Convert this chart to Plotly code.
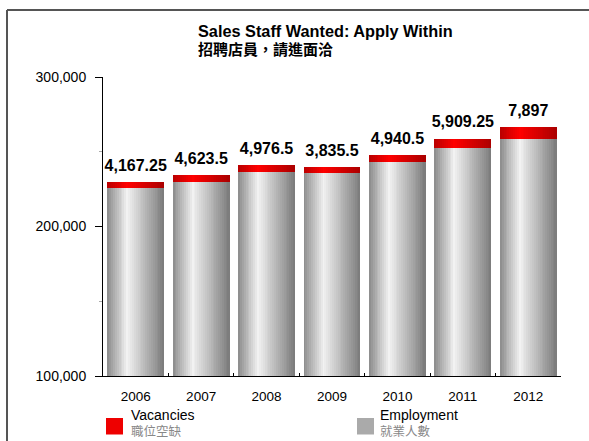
import plotly.graph_objects as go

# ---- data ----
years = ["2006", "2007", "2008", "2009", "2010", "2011", "2012"]
employment = [225500, 229700, 236200, 235800, 243000, 252800, 258800]
vacancies = [4167.25, 4623.5, 4976.5, 3835.5, 4940.5, 5909.25, 7897]
y_ticks = [100000, 200000, 300000]

W, H = 589, 441
ML, MR, MT, MB = 103, 28, 77, 65
PW, PH = W - ML - MR, H - MT - MB

FONT = "Liberation Sans, Arial, Noto Sans CJK TC, sans-serif"
CJK = "Noto Sans CJK TC, Liberation Sans, sans-serif"


def px(x):
    return (x - ML) / PW


def py(y):
    return (H - MB - y) / PH


def lerp_color(stops, t):
    for (t0, c0), (t1, c1) in zip(stops, stops[1:]):
        if t0 <= t <= t1:
            f = (t - t0) / (t1 - t0) if t1 > t0 else 0
            c = [round(a + (b - a) * f) for a, b in zip(c0, c1)]
            return "rgb(%d,%d,%d)" % tuple(c)
    c = stops[-1][1]
    return "rgb(%d,%d,%d)" % tuple(c)


gray_stops = [(0.0, (138, 138, 138)), (0.35, (242, 242, 242)), (1.0, (122, 122, 122))]
red_stops = [(0.0, (185, 0, 0)), (0.35, (255, 0, 0)), (1.0, (170, 0, 0))]

BAR_W = 0.87
N = 30
fig = go.Figure()

# cylinder-like shading: each strip starts further right and runs to the bar's right edge
for k in range(N):
    t = (k + 0.5) / N
    off = -BAR_W / 2 + k * BAR_W / N
    wid = BAR_W - k * BAR_W / N
    fig.add_trace(go.Bar(
        x=years, y=employment, offset=off, width=wid,
        marker=dict(color=lerp_color(gray_stops, t), line=dict(width=0)),
        showlegend=False, hoverinfo="skip"))
for k in range(N):
    t = (k + 0.5) / N
    off = -BAR_W / 2 + k * BAR_W / N
    wid = BAR_W - k * BAR_W / N
    fig.add_trace(go.Bar(
        x=years, y=vacancies, base=employment, offset=off, width=wid,
        marker=dict(color=lerp_color(red_stops, t), line=dict(width=0)),
        showlegend=False, hoverinfo="skip"))


def fmt(v):
    s = f"{v:,.2f}".rstrip("0").rstrip(".")
    return s


totals = [e + v for e, v in zip(employment, vacancies)]
fig.add_trace(go.Scatter(
    x=years, y=totals, mode="markers+text",
    text=[fmt(v) for v in vacancies], textposition="top center",
    textfont=dict(family=FONT, size=16, color="black", weight="bold"),
    marker=dict(size=10, opacity=0),
    showlegend=False, hoverinfo="skip", cliponaxis=False))

shapes = [
    # outer frame: top and left edges
    dict(type="line", xref="paper", yref="paper", x0=px(7), x1=px(589), y0=py(10), y1=py(10),
         line=dict(color="#555555", width=2)),
    dict(type="line", xref="paper", yref="paper", x0=px(7), x1=px(7), y0=py(10), y1=py(441),
         line=dict(color="#555555", width=2)),
    # legend swatches
    dict(type="rect", xref="paper", yref="paper", x0=px(106), x1=px(123), y0=py(418), y1=py(434.5),
         fillcolor="#ee0000", line=dict(width=0)),
    dict(type="rect", xref="paper", yref="paper", x0=px(357), x1=px(374), y0=py(418), y1=py(434.5),
         fillcolor="#aaaaaa", line=dict(width=0)),
]


def legend_label(en, zh):
    return (f"<span style='font-size:14px'>{en}</span><br>"
            f"<span style='font-size:12.5px;color:#888888;font-family:Noto Sans CJK TC'>{zh}</span>")


annotations = [
    dict(text="<b>Sales Staff Wanted: Apply Within</b>", x=px(196), y=py(31), xref="paper", yref="paper",
         xanchor="left", yanchor="middle", showarrow=False, font=dict(family=FONT, size=16.3, color="black")),
    dict(text="<b>招聘店員，請進面洽</b>", x=px(196), y=py(48), xref="paper", yref="paper",
         xanchor="left", yanchor="middle", showarrow=False, font=dict(family=CJK, size=15, color="black")),
    dict(text=legend_label("Vacancies", "職位空缺"), x=px(130), y=py(423.5), xref="paper", yref="paper",
         xanchor="left", yanchor="middle", align="left", showarrow=False, borderpad=0,
         font=dict(family=FONT, size=12.5, color="black")),
    dict(text=legend_label("Employment", "就業人數"), x=px(379), y=py(423.5), xref="paper", yref="paper",
         xanchor="left", yanchor="middle", align="left", showarrow=False, borderpad=0,
         font=dict(family=FONT, size=12.5, color="black")),
]

fig.update_layout(
    width=W, height=H, margin=dict(l=ML, r=MR, t=MT, b=MB, autoexpand=False),
    paper_bgcolor="white", plot_bgcolor="white",
    barmode="overlay", bargap=0,
    shapes=shapes, annotations=annotations,
    font=dict(family=FONT, color="black"),
    xaxis=dict(type="category", categoryorder="array", categoryarray=years,
               showline=True, linecolor="black", linewidth=1,
               ticks="inside", tickson="boundaries", ticklen=3, tickcolor="black",
               showgrid=False, zeroline=False,
               tickfont=dict(family=FONT, size=13.5, color="black"), ticklabelstandoff=8),
    yaxis=dict(range=[100000, 300000], tickvals=y_ticks, tickformat=",",
               showline=True, linecolor="black", linewidth=1,
               ticks="outside", ticklen=7, tickcolor="black",
               minor=dict(dtick=50000, ticks="outside", ticklen=3, tickcolor="#aaaaaa"),
               showgrid=False, zeroline=False,
               tickfont=dict(family=FONT, size=14, color="black"), ticklabelstandoff=6),
)

fig.write_html("out.html")
